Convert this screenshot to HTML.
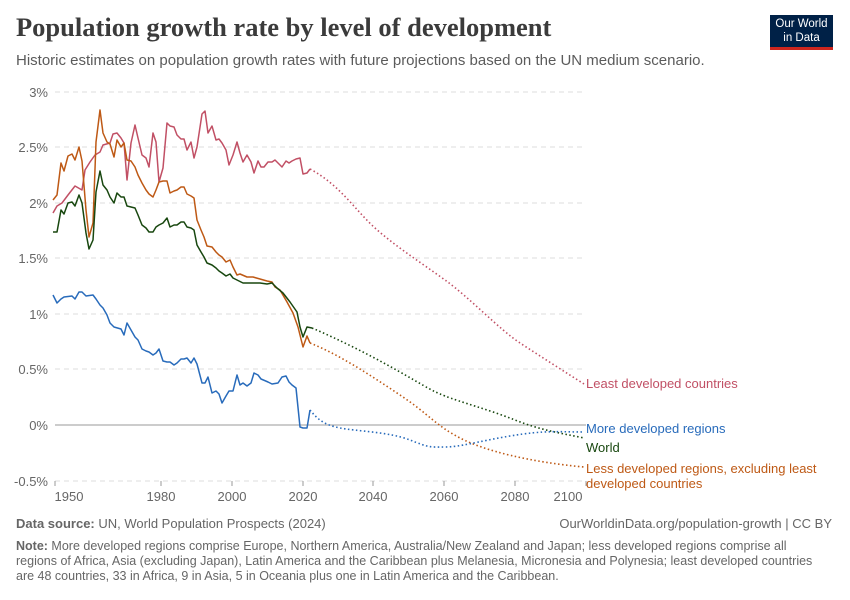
<!DOCTYPE html>
<html><head><meta charset="utf-8"><style>
body{margin:0;background:#fff;font-family:"Liberation Sans",sans-serif;}
.t{position:absolute;white-space:nowrap}
</style></head><body>
<div style="position:relative;width:850px;height:600px;overflow:hidden">
<div class="t" style="left:16px;top:12px;font-family:'Liberation Serif',serif;font-weight:bold;font-size:26.5px;color:#3b3b3b">Population growth rate by level of development</div>
<div class="t" style="left:16px;top:52px;font-size:15px;color:#5b5b5b">Historic estimates on population growth rates with future projections based on the UN medium scenario.</div>
<div style="position:absolute;left:770px;top:15px;width:63px;height:35px;background:#002147;border-bottom:3px solid #ce261e;color:#fff;font-size:11.5px;line-height:14px;text-align:center;padding-top:2px;box-sizing:border-box">Our World<br>in Data</div>
<svg width="850" height="600" style="position:absolute;left:0;top:0" font-family="Liberation Sans" >
<g stroke="#ddd" stroke-dasharray="5,4" stroke-width="1">
<line x1="55" x2="586" y1="92" y2="92"/><line x1="55" x2="586" y1="147" y2="147"/><line x1="55" x2="586" y1="203" y2="203"/><line x1="55" x2="586" y1="258" y2="258"/><line x1="55" x2="586" y1="314" y2="314"/><line x1="55" x2="586" y1="369" y2="369"/><line x1="55" x2="586" y1="481" y2="481"/>
</g>
<line x1="55" x2="586" y1="425" y2="425" stroke="#999"/>
<g stroke="#999"><line x1="55" x2="55" y1="481" y2="486"/><line x1="161" x2="161" y1="481" y2="486"/><line x1="232" x2="232" y1="481" y2="486"/><line x1="303" x2="303" y1="481" y2="486"/><line x1="373" x2="373" y1="481" y2="486"/><line x1="444" x2="444" y1="481" y2="486"/><line x1="515" x2="515" y1="481" y2="486"/><line x1="586" x2="586" y1="481" y2="486"/></g>
<g font-size="13" fill="#666" text-anchor="end">
<text x="48" y="97">3%</text><text x="48" y="152">2.5%</text><text x="48" y="208">2%</text><text x="48" y="263">1.5%</text><text x="48" y="319">1%</text><text x="48" y="374">0.5%</text><text x="48" y="430">0%</text><text x="48" y="486">-0.5%</text>
</g>
<g font-size="13" fill="#666" text-anchor="middle">
<text x="69" y="501">1950</text><text x="161" y="501">1980</text><text x="232" y="501">2000</text><text x="303" y="501">2020</text><text x="373" y="501">2040</text><text x="444" y="501">2060</text><text x="515" y="501">2080</text><text x="568" y="501">2100</text>
</g>
<g fill="none" stroke-width="1.5" stroke-linejoin="round">
<polyline stroke="#c15065" points="53,213 57,206 62,203 68,195 75,186 82,190 85,170 90,162 95,155 100,152 103,145 110,143 113,134 117,133 121,138 124,143 127,180 131,143 135,125 138,138 142,155 146,158 149,167 153,133 156,142 159,182 163,168 167,123 170,126 174,127 177,135 181,139 184,139 187,150 191,142 194,158 197,147 202,114 205,111 208,133 212,126 216,140 219,139 222,143 226,150 229,165 233,155 237,142 240,153 243,162 247,155 251,162 254,173 258,161 261,167 264,167 268,162 272,162 275,160 278,163 282,167 286,161 289,163 292,161 296,159 300,158 303,174 307,173 310,169"/>
<polyline stroke="#be5915" points="53,200 57,195 61,163 64,171 68,156 72,154 75,160 79,147 82,161 86,210 89,237 93,223 96,142 100,110 103,133 107,142 110,144 114,157 117,140 121,147 124,143 127,160 131,161 135,167 138,175 142,183 146,190 149,194 153,197 156,190 159,182 163,181 167,181 170,193 174,191 177,190 181,187 184,187 187,194 191,196 194,198 197,220 201,230 204,237 207,246 212,247 216,252 219,255 222,257 226,262 230,260 233,267 237,275 240,274 247,277 253,277 260,279 267,281 272,282 275,287 280,290 287,302 293,313 298,327 303,347 307,336 310,343"/>
<polyline stroke="#18470f" points="53,232 57,232 61,210 64,214 68,203 72,202 75,206 79,195 82,203 86,233 89,249 93,240 96,192 100,171 103,185 107,190 110,197 114,203 117,193 121,197 124,197 127,206 131,207 135,208 138,215 142,225 146,228 149,232 153,232 156,227 159,225 163,223 167,218 170,227 174,225 177,225 181,222 184,222 187,227 191,228 194,230 197,245 201,252 204,257 207,263 212,265 216,268 219,271 222,273 226,276 230,274 233,278 237,280 243,283 250,283 260,283 267,284 272,283 277,288 283,293 290,302 297,312 300,327 303,337 307,327 312,328"/>
<polyline stroke="#286bbb" points="53,295 57,303 61,299 64,297 72,296 75,299 79,292 82,292 86,296 93,295 96,299 100,305 103,308 107,315 110,323 114,327 121,329 124,335 127,323 131,330 135,337 138,340 142,349 146,351 149,352 153,355 156,353 159,349 163,361 167,362 170,362 174,365 177,363 181,359 184,359 187,358 191,363 194,358 197,364 202,383 205,383 208,377 212,393 216,391 219,394 222,403 226,396 229,391 233,391 237,375 240,385 243,383 247,386 251,383 254,373 258,375 261,379 268,382 272,384 278,383 282,377 286,376 289,382 292,385 296,388 300,427 303,428 307,428 310,410"/>
</g>
<g fill="none" stroke-width="1.6" stroke-dasharray="1.5,2.5">
<path stroke="#c15065" d="M310,169 C340,185 355,210 375,228 S420,262 445,280 S500,330 520,343 S565,372 584,384"/>
<path stroke="#be5915" d="M310,343 C340,355 370,375 400,395 S435,425 460,438 S530,462 584,467"/>
<path stroke="#18470f" d="M312,328 C340,340 370,355 400,372 S430,390 445,396 S490,410 515,420 S560,433 584,438"/>
<path stroke="#286bbb" d="M310,410 C318,420 325,425 340,428 S390,432 410,440 S430,447 445,447 S475,442 510,436 S560,432 584,432"/>
</g>
<g font-size="13">
<text x="586" y="388" fill="#c15065">Least developed countries</text>
<text x="586" y="433" fill="#286bbb">More developed regions</text>
<text x="586" y="452" fill="#18470f">World</text>
<text x="586" y="473" fill="#be5915">Less developed regions, excluding least</text>
<text x="586" y="488" fill="#be5915">developed countries</text>
</g>
</svg>
<div class="t" style="left:16px;top:516px;font-size:13px;color:#666"><b>Data source:</b> UN, World Population Prospects (2024)</div>
<div class="t" style="right:18px;top:516px;font-size:13px;color:#666">OurWorldinData.org/population-growth | CC BY</div>
<div style="position:absolute;left:16px;top:539px;width:800px;font-size:12.5px;line-height:15px;color:#666"><b>Note:</b> More developed regions comprise Europe, Northern America, Australia/New Zealand and Japan; less developed regions comprise all regions of Africa, Asia (excluding Japan), Latin America and the Caribbean plus Melanesia, Micronesia and Polynesia; least developed countries are 48 countries, 33 in Africa, 9 in Asia, 5 in Oceania plus one in Latin America and the Caribbean.</div>
</div>
</body></html>
